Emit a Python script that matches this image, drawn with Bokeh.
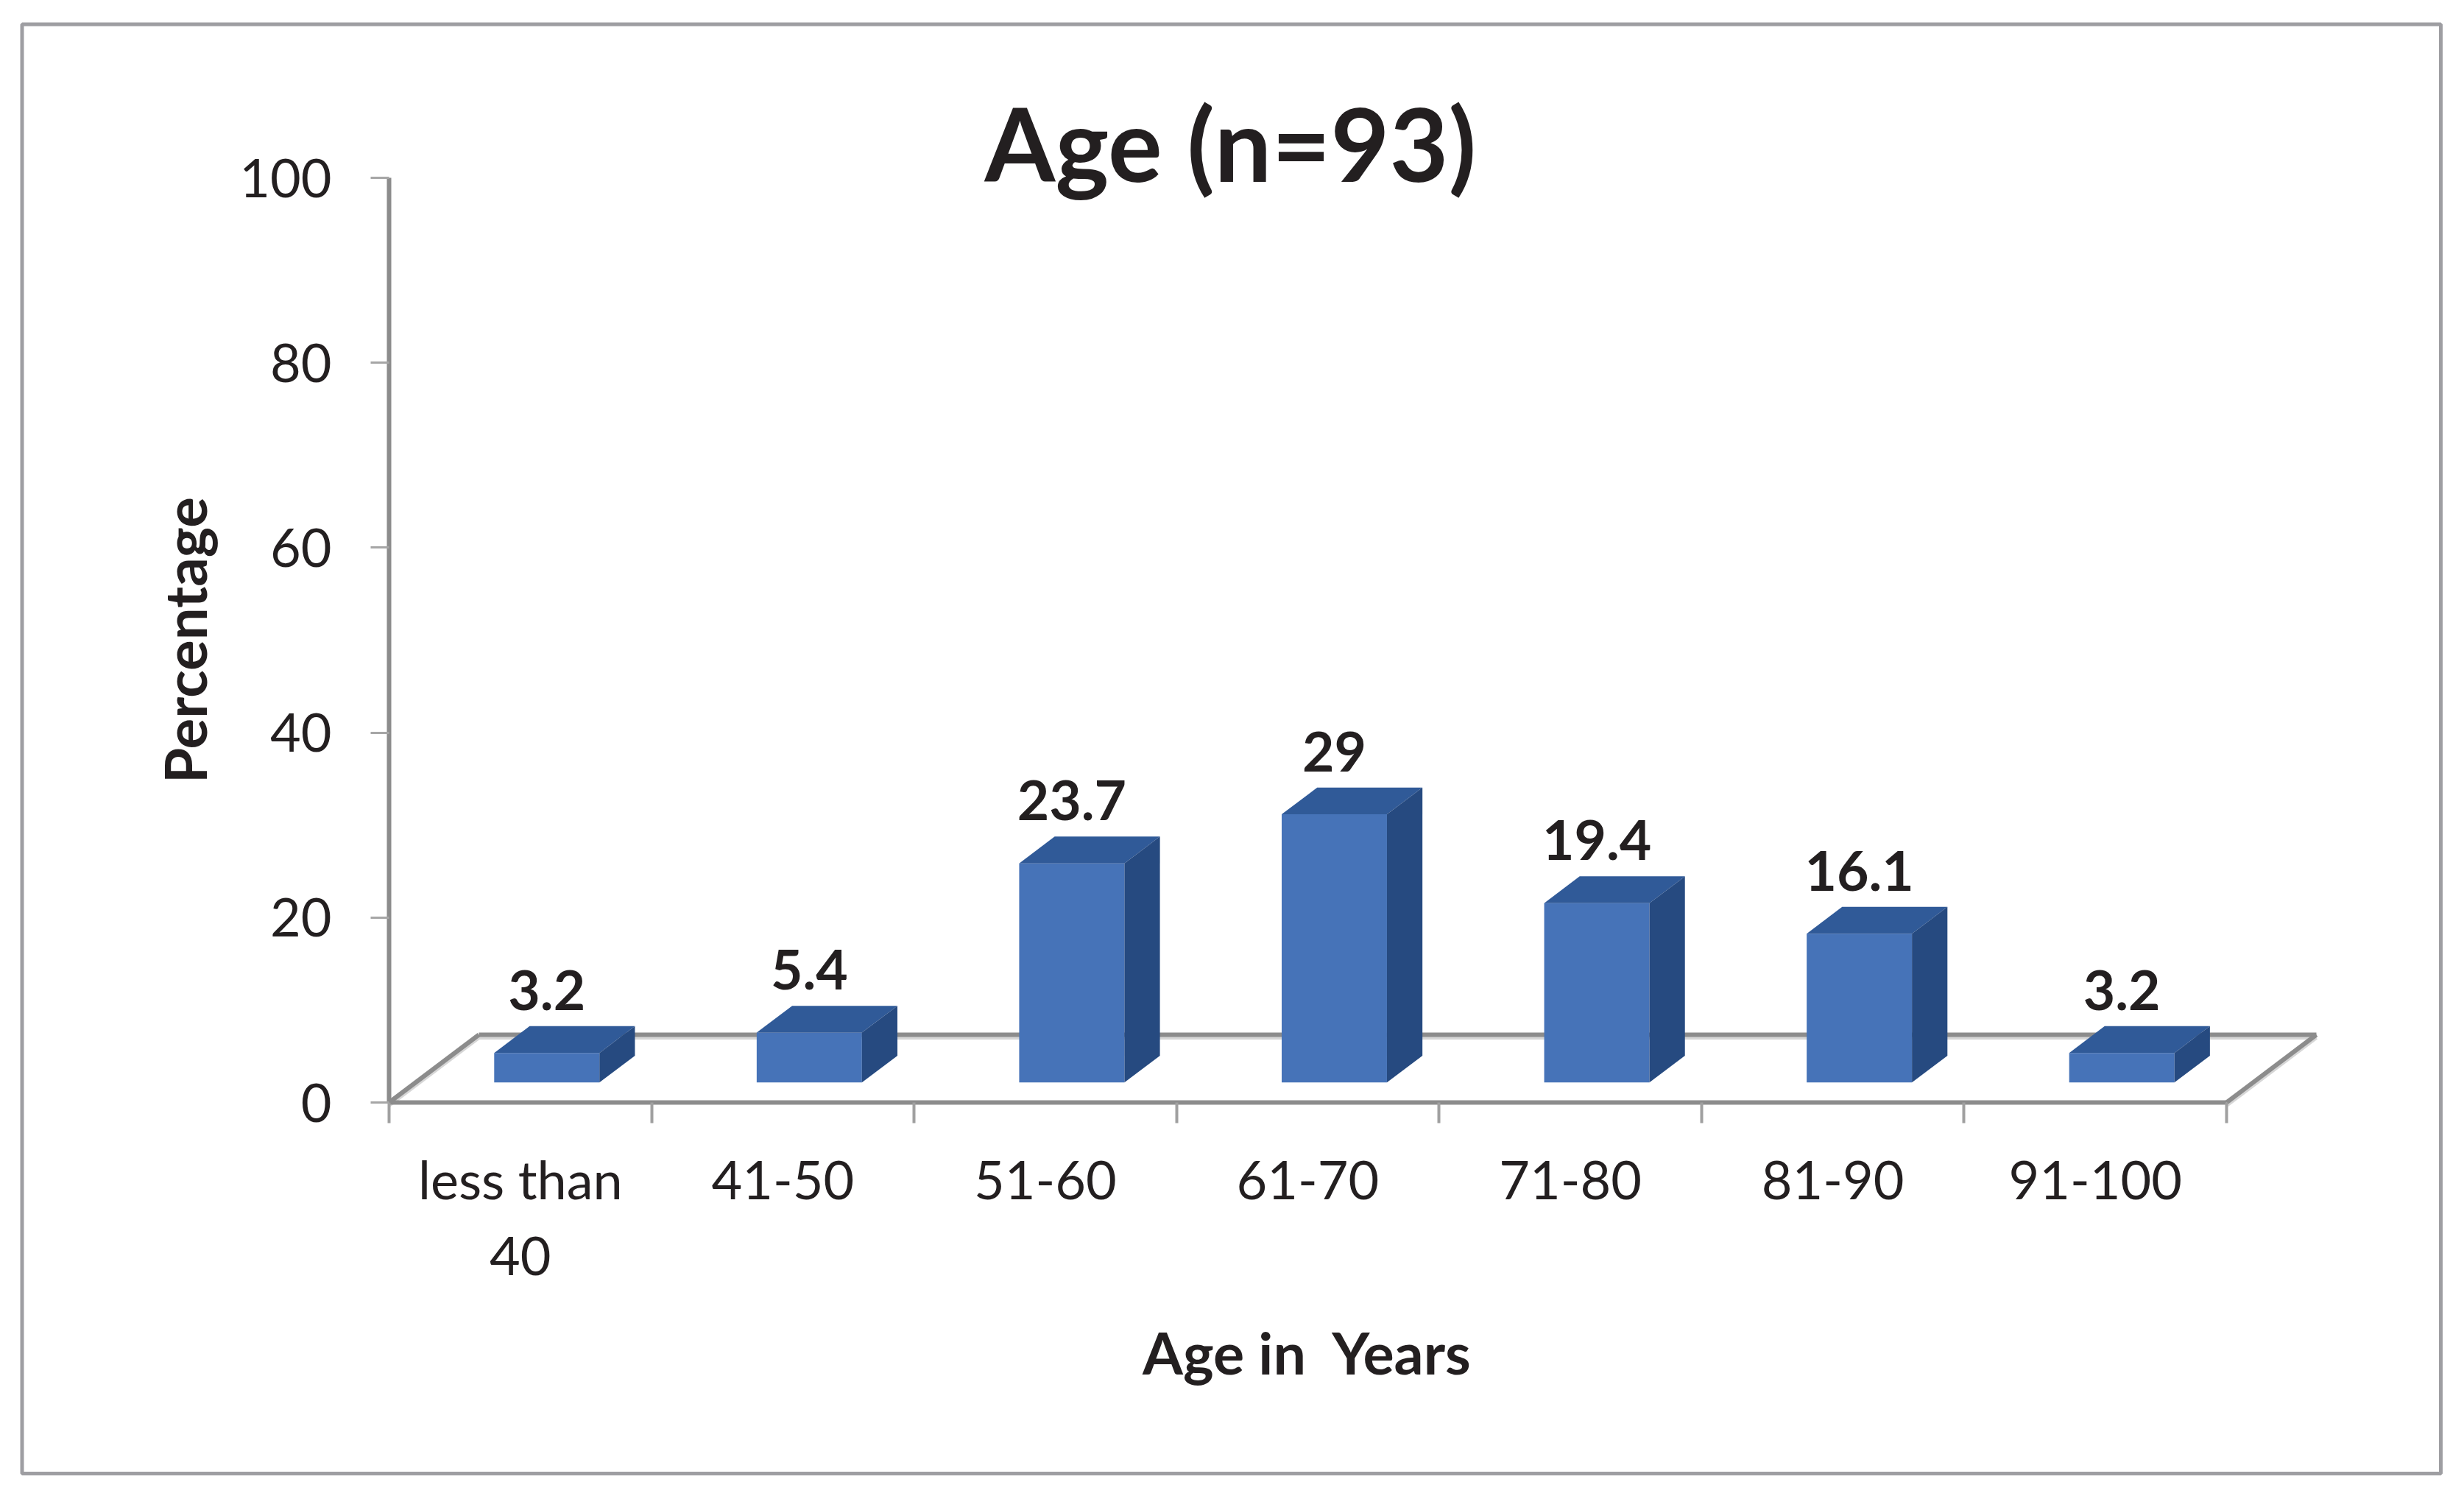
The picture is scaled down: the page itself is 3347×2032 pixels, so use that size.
import math
from bokeh.plotting import figure
from bokeh.models import Range1d, FixedTicker, BoxAnnotation, Label
from bokeh.core.properties import value
from bokeh.embed import file_html
from bokeh.resources import INLINE

# ---- data ----
categories = ["less than\n40", "41-50", "51-60", "61-70", "71-80", "81-90", "91-100"]
percentages = [3.2, 5.4, 23.7, 29, 19.4, 16.1, 3.2]
y_ticks = [0, 20, 40, 60, 80, 100]
title_text = "Age (n=93)"
x_title = "Age in\u00a0 Years"
y_title = "Percentage"

# ---- layout / style ----
W, H = 3331, 2016
X0_PX, Y0_PX = 528, 1497          # canvas position of (0, 0)
CAT_PX = 356.57                   # px per category
Y_PX = 12.56                      # px per percentage point
FLOOR_DX = 122 / CAT_PX
FLOOR_DY = 92 / Y_PX
BAR_F0 = 0.295
BAR_FD = 0.395
BAR_W = 0.401
TXT = "#231F20"
FRONT, TOP, SIDE = "#4673B8", "#305A98", "#264A80"
FLOOR = "#8C8C8C"

n = len(categories)
x_range = Range1d(-X0_PX / CAT_PX, (W - X0_PX) / CAT_PX)
y_range = Range1d(-(H - Y0_PX) / Y_PX, Y0_PX / Y_PX)

p = figure(width=W, height=H, x_range=x_range, y_range=y_range,
           output_backend="svg", toolbar_location=None, min_border=0)
p.title.visible = False
p.grid.visible = False
p.outline_line_color = None
p.background_fill_color = "white"
p.border_fill_color = "white"

# x axis
xa = p.xaxis[0]
xa.fixed_location = 0
xa.ticker = FixedTicker(ticks=[i + 0.5 for i in range(n)], minor_ticks=list(range(n + 1)))
xa.major_label_overrides = {i + 0.5: c for i, c in enumerate(categories)}
xa.bounds = (0, n)
xa.major_tick_out = 0
xa.major_tick_in = 0
xa.minor_tick_out = 28
xa.minor_tick_in = 0
xa.minor_tick_line_color = "#A0A0A0"
xa.minor_tick_line_width = 4
xa.axis_line_color = FLOOR
xa.axis_line_width = 6
xa.major_label_standoff = 32
xa.major_label_text_font = "Lato"
xa.major_label_text_font_size = "72px"
xa.major_label_text_color = TXT

# y axis
ya = p.yaxis[0]
ya.fixed_location = 0
ya.ticker = FixedTicker(ticks=y_ticks)
ya.bounds = (0, 100)
ya.major_tick_out = 25
ya.major_tick_in = 0
ya.minor_tick_out = 0
ya.minor_tick_in = 0
ya.major_tick_line_color = "#A6A6A6"
ya.major_tick_line_width = 3
ya.axis_line_color = FLOOR
ya.axis_line_width = 6
ya.major_label_standoff = 53
ya.major_label_text_font = "Lato"
ya.major_label_text_font_size = "72px"
ya.major_label_text_color = TXT

# floor
fx = [[FLOOR_DX, n + FLOOR_DX], [0, FLOOR_DX], [n, n + FLOOR_DX]]
fy = [[FLOOR_DY, FLOOR_DY], [0, FLOOR_DY], [0, FLOOR_DY]]
sh = 4 / Y_PX
p.multi_line(fx, [[b - sh for b in ys] for ys in fy], line_color="#D6D6D6", line_width=5)
p.multi_line(fx, fy, line_color=FLOOR, line_width=6)

# bars (3D faces)
yb = BAR_F0 * FLOOR_DY
ddx = BAR_FD * FLOOR_DX
ddy = BAR_FD * FLOOR_DY
front_x, front_y, top_x, top_y, side_x, side_y = [], [], [], [], [], []
lab_x, lab_y, lab_t = [], [], []
for i, v in enumerate(percentages):
    cx = i + 0.5 + BAR_F0 * FLOOR_DX
    L, R = cx - BAR_W / 2, cx + BAR_W / 2
    t = yb + v
    front_x.append([L, R, R, L]); front_y.append([yb, yb, t, t])
    top_x.append([L, R, R + ddx, L + ddx]); top_y.append([t, t, t + ddy, t + ddy])
    side_x.append([R, R + ddx, R + ddx, R]); side_y.append([yb, yb + ddy, t + ddy, t])
    lab_x.append(cx); lab_y.append(t + ddy + 49 / Y_PX); lab_t.append(f"{v:g}")

p.patches(front_x, front_y, fill_color=FRONT, line_color=None)
p.patches(top_x, top_y, fill_color=TOP, line_color=None)
p.patches(side_x, side_y, fill_color=SIDE, line_color=None)

p.text(x=lab_x, y=lab_y, text=lab_t, text_font=value("Lato"), text_font_style="bold",
       text_font_size="75px", text_align="center", text_baseline="middle", text_color=TXT)

# titles
p.add_layout(Label(x=1671, y=193, x_units="canvas", y_units="canvas", text=title_text,
                   text_font="Lato", text_font_style="bold", text_font_size="138px",
                   text_align="center", text_baseline="middle", text_color=TXT))
p.add_layout(Label(x=1776, y=1836, x_units="canvas", y_units="canvas", text=x_title,
                   text_font="Lato", text_font_style="bold", text_font_size="79px",
                   text_align="center", text_baseline="middle", text_color=TXT))
p.add_layout(Label(x=250, y=869, x_units="canvas", y_units="canvas", text=y_title,
                   angle=math.pi / 2,
                   text_font="Lato", text_font_style="bold", text_font_size="78px",
                   text_align="center", text_baseline="middle", text_color=TXT))

# chart border
p.add_layout(BoxAnnotation(left=29.5, right=3315, top=32.5, bottom=2001,
                           left_units="canvas", right_units="canvas",
                           top_units="canvas", bottom_units="canvas",
                           fill_alpha=0, line_color="#9E9EA2", line_alpha=1.0,
                           line_width=5, level="overlay"))

open("out.html", "w").write(file_html(p, INLINE))
